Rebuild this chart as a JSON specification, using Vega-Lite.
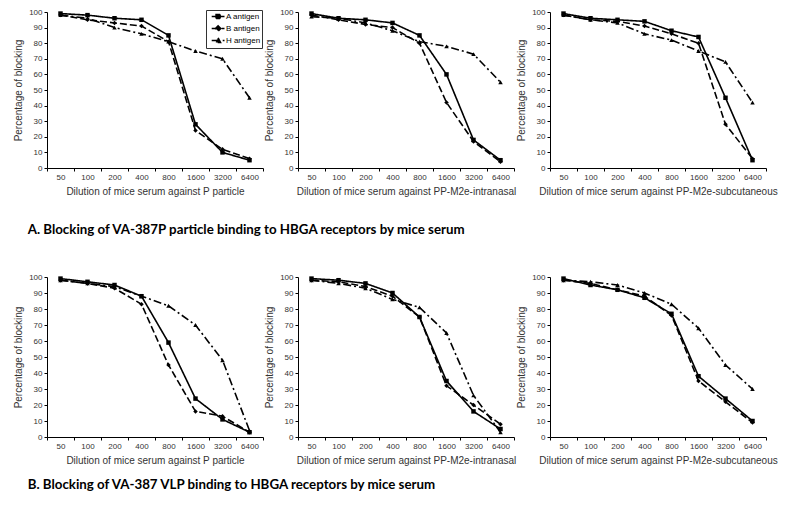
{
  "$schema": "https://vega.github.io/schema/vega-lite/v6.json",
  "padding": {"left": 13, "top": 8, "right": 5, "bottom": 5},
  "background": "white",
  "spacing": 36,
  "config": {
    "view": {"stroke": null},
    "font": "Liberation Sans",
    "axis": {"grid": false, "domainColor": "#000", "tickColor": "#000", "tickSize": 3, "labelFontSize": 8, "labelColor": "#333", "titleFontSize": 10, "titleFontWeight": "normal", "titleColor": "#333", "labelFont": "Liberation Sans", "titleFont": "Liberation Sans"},
    "axisX": {"labelAngle": 0, "tickBand": "extent", "titlePadding": 5},
    "axisY": {"titlePadding": 5, "labelPadding": 2}
  },
  "datasets": {
    "d": [
      {"p": 1, "a": "A antigen", "d": "50", "v": 99}, {"p": 1, "a": "A antigen", "d": "100", "v": 98}, {"p": 1, "a": "A antigen", "d": "200", "v": 96}, {"p": 1, "a": "A antigen", "d": "400", "v": 95}, {"p": 1, "a": "A antigen", "d": "800", "v": 85}, {"p": 1, "a": "A antigen", "d": "1600", "v": 28}, {"p": 1, "a": "A antigen", "d": "3200", "v": 10}, {"p": 1, "a": "A antigen", "d": "6400", "v": 5},
      {"p": 1, "a": "B antigen", "d": "50", "v": 98}, {"p": 1, "a": "B antigen", "d": "100", "v": 95}, {"p": 1, "a": "B antigen", "d": "200", "v": 93}, {"p": 1, "a": "B antigen", "d": "400", "v": 91}, {"p": 1, "a": "B antigen", "d": "800", "v": 81}, {"p": 1, "a": "B antigen", "d": "1600", "v": 24}, {"p": 1, "a": "B antigen", "d": "3200", "v": 12}, {"p": 1, "a": "B antigen", "d": "6400", "v": 6},
      {"p": 1, "a": "H antigen", "d": "50", "v": 98}, {"p": 1, "a": "H antigen", "d": "100", "v": 96}, {"p": 1, "a": "H antigen", "d": "200", "v": 90}, {"p": 1, "a": "H antigen", "d": "400", "v": 86}, {"p": 1, "a": "H antigen", "d": "800", "v": 81}, {"p": 1, "a": "H antigen", "d": "1600", "v": 75}, {"p": 1, "a": "H antigen", "d": "3200", "v": 70}, {"p": 1, "a": "H antigen", "d": "6400", "v": 45},
      {"p": 2, "a": "A antigen", "d": "50", "v": 99}, {"p": 2, "a": "A antigen", "d": "100", "v": 96}, {"p": 2, "a": "A antigen", "d": "200", "v": 95}, {"p": 2, "a": "A antigen", "d": "400", "v": 93}, {"p": 2, "a": "A antigen", "d": "800", "v": 85}, {"p": 2, "a": "A antigen", "d": "1600", "v": 60}, {"p": 2, "a": "A antigen", "d": "3200", "v": 18}, {"p": 2, "a": "A antigen", "d": "6400", "v": 5},
      {"p": 2, "a": "B antigen", "d": "50", "v": 98}, {"p": 2, "a": "B antigen", "d": "100", "v": 95}, {"p": 2, "a": "B antigen", "d": "200", "v": 92}, {"p": 2, "a": "B antigen", "d": "400", "v": 90}, {"p": 2, "a": "B antigen", "d": "800", "v": 80}, {"p": 2, "a": "B antigen", "d": "1600", "v": 42}, {"p": 2, "a": "B antigen", "d": "3200", "v": 17}, {"p": 2, "a": "B antigen", "d": "6400", "v": 4},
      {"p": 2, "a": "H antigen", "d": "50", "v": 97}, {"p": 2, "a": "H antigen", "d": "100", "v": 96}, {"p": 2, "a": "H antigen", "d": "200", "v": 93}, {"p": 2, "a": "H antigen", "d": "400", "v": 88}, {"p": 2, "a": "H antigen", "d": "800", "v": 81}, {"p": 2, "a": "H antigen", "d": "1600", "v": 78}, {"p": 2, "a": "H antigen", "d": "3200", "v": 73}, {"p": 2, "a": "H antigen", "d": "6400", "v": 55},
      {"p": 3, "a": "A antigen", "d": "50", "v": 99}, {"p": 3, "a": "A antigen", "d": "100", "v": 96}, {"p": 3, "a": "A antigen", "d": "200", "v": 95}, {"p": 3, "a": "A antigen", "d": "400", "v": 94}, {"p": 3, "a": "A antigen", "d": "800", "v": 88}, {"p": 3, "a": "A antigen", "d": "1600", "v": 84}, {"p": 3, "a": "A antigen", "d": "3200", "v": 45}, {"p": 3, "a": "A antigen", "d": "6400", "v": 5},
      {"p": 3, "a": "B antigen", "d": "50", "v": 98}, {"p": 3, "a": "B antigen", "d": "100", "v": 95}, {"p": 3, "a": "B antigen", "d": "200", "v": 94}, {"p": 3, "a": "B antigen", "d": "400", "v": 91}, {"p": 3, "a": "B antigen", "d": "800", "v": 86}, {"p": 3, "a": "B antigen", "d": "1600", "v": 80}, {"p": 3, "a": "B antigen", "d": "3200", "v": 28}, {"p": 3, "a": "B antigen", "d": "6400", "v": 6},
      {"p": 3, "a": "H antigen", "d": "50", "v": 98}, {"p": 3, "a": "H antigen", "d": "100", "v": 95}, {"p": 3, "a": "H antigen", "d": "200", "v": 93}, {"p": 3, "a": "H antigen", "d": "400", "v": 86}, {"p": 3, "a": "H antigen", "d": "800", "v": 82}, {"p": 3, "a": "H antigen", "d": "1600", "v": 75}, {"p": 3, "a": "H antigen", "d": "3200", "v": 68}, {"p": 3, "a": "H antigen", "d": "6400", "v": 42},
      {"p": 4, "a": "A antigen", "d": "50", "v": 99}, {"p": 4, "a": "A antigen", "d": "100", "v": 97}, {"p": 4, "a": "A antigen", "d": "200", "v": 95}, {"p": 4, "a": "A antigen", "d": "400", "v": 88}, {"p": 4, "a": "A antigen", "d": "800", "v": 59}, {"p": 4, "a": "A antigen", "d": "1600", "v": 24}, {"p": 4, "a": "A antigen", "d": "3200", "v": 11}, {"p": 4, "a": "A antigen", "d": "6400", "v": 3},
      {"p": 4, "a": "B antigen", "d": "50", "v": 98}, {"p": 4, "a": "B antigen", "d": "100", "v": 96}, {"p": 4, "a": "B antigen", "d": "200", "v": 93}, {"p": 4, "a": "B antigen", "d": "400", "v": 83}, {"p": 4, "a": "B antigen", "d": "800", "v": 45}, {"p": 4, "a": "B antigen", "d": "1600", "v": 16}, {"p": 4, "a": "B antigen", "d": "3200", "v": 13}, {"p": 4, "a": "B antigen", "d": "6400", "v": 3},
      {"p": 4, "a": "H antigen", "d": "50", "v": 98}, {"p": 4, "a": "H antigen", "d": "100", "v": 96}, {"p": 4, "a": "H antigen", "d": "200", "v": 94}, {"p": 4, "a": "H antigen", "d": "400", "v": 88}, {"p": 4, "a": "H antigen", "d": "800", "v": 82}, {"p": 4, "a": "H antigen", "d": "1600", "v": 70}, {"p": 4, "a": "H antigen", "d": "3200", "v": 48}, {"p": 4, "a": "H antigen", "d": "6400", "v": 4},
      {"p": 5, "a": "A antigen", "d": "50", "v": 99}, {"p": 5, "a": "A antigen", "d": "100", "v": 98}, {"p": 5, "a": "A antigen", "d": "200", "v": 96}, {"p": 5, "a": "A antigen", "d": "400", "v": 90}, {"p": 5, "a": "A antigen", "d": "800", "v": 75}, {"p": 5, "a": "A antigen", "d": "1600", "v": 35}, {"p": 5, "a": "A antigen", "d": "3200", "v": 16}, {"p": 5, "a": "A antigen", "d": "6400", "v": 5},
      {"p": 5, "a": "B antigen", "d": "50", "v": 98}, {"p": 5, "a": "B antigen", "d": "100", "v": 97}, {"p": 5, "a": "B antigen", "d": "200", "v": 94}, {"p": 5, "a": "B antigen", "d": "400", "v": 88}, {"p": 5, "a": "B antigen", "d": "800", "v": 75}, {"p": 5, "a": "B antigen", "d": "1600", "v": 32}, {"p": 5, "a": "B antigen", "d": "3200", "v": 20}, {"p": 5, "a": "B antigen", "d": "6400", "v": 8},
      {"p": 5, "a": "H antigen", "d": "50", "v": 98}, {"p": 5, "a": "H antigen", "d": "100", "v": 96}, {"p": 5, "a": "H antigen", "d": "200", "v": 93}, {"p": 5, "a": "H antigen", "d": "400", "v": 86}, {"p": 5, "a": "H antigen", "d": "800", "v": 81}, {"p": 5, "a": "H antigen", "d": "1600", "v": 65}, {"p": 5, "a": "H antigen", "d": "3200", "v": 26}, {"p": 5, "a": "H antigen", "d": "6400", "v": 3},
      {"p": 6, "a": "A antigen", "d": "50", "v": 99}, {"p": 6, "a": "A antigen", "d": "100", "v": 95}, {"p": 6, "a": "A antigen", "d": "200", "v": 92}, {"p": 6, "a": "A antigen", "d": "400", "v": 87}, {"p": 6, "a": "A antigen", "d": "800", "v": 77}, {"p": 6, "a": "A antigen", "d": "1600", "v": 38}, {"p": 6, "a": "A antigen", "d": "3200", "v": 24}, {"p": 6, "a": "A antigen", "d": "6400", "v": 10},
      {"p": 6, "a": "B antigen", "d": "50", "v": 98}, {"p": 6, "a": "B antigen", "d": "100", "v": 96}, {"p": 6, "a": "B antigen", "d": "200", "v": 92}, {"p": 6, "a": "B antigen", "d": "400", "v": 88}, {"p": 6, "a": "B antigen", "d": "800", "v": 76}, {"p": 6, "a": "B antigen", "d": "1600", "v": 35}, {"p": 6, "a": "B antigen", "d": "3200", "v": 22}, {"p": 6, "a": "B antigen", "d": "6400", "v": 9},
      {"p": 6, "a": "H antigen", "d": "50", "v": 98}, {"p": 6, "a": "H antigen", "d": "100", "v": 97}, {"p": 6, "a": "H antigen", "d": "200", "v": 95}, {"p": 6, "a": "H antigen", "d": "400", "v": 90}, {"p": 6, "a": "H antigen", "d": "800", "v": 83}, {"p": 6, "a": "H antigen", "d": "1600", "v": 68}, {"p": 6, "a": "H antigen", "d": "3200", "v": 45}, {"p": 6, "a": "H antigen", "d": "6400", "v": 30}
    ]
  },
  "vconcat": [
    {
      "title": {"text": "A. Blocking of VA-387P particle binding to HBGA receptors by mice serum", "orient": "bottom", "anchor": "start", "offset": 27, "dx": 14, "font": "Lato", "fontSize": 13.3, "fontWeight": "bold", "color": "#000"},
      "spacing": 0,
      "hconcat": [
        {
          "width": 216, "height": 156,
          "data": {"name": "d"},
          "transform": [{"filter": "datum.p == 1"}],
          "encoding": {
            "x": {"field": "d", "type": "ordinal", "sort": ["50", "100", "200", "400", "800", "1600", "3200", "6400"], "scale": {"type": "band", "paddingInner": 0, "paddingOuter": 0}, "bandPosition": 0.5, "axis": {"title": "Dilution of mice serum against P particle"}},
            "y": {"field": "v", "type": "quantitative", "scale": {"domain": [0, 100]}, "axis": {"title": "Percentage of blocking", "values": [0, 10, 20, 30, 40, 50, 60, 70, 80, 90, 100]}}
          },
          "layer": [
            {"mark": {"type": "line", "color": "#000", "strokeWidth": 1.6}, "encoding": {"strokeDash": {"field": "a", "type": "nominal", "scale": {"domain": ["A antigen", "B antigen", "H antigen"], "range": [[1, 0], [7, 3], [8, 3, 2, 3]]}, "legend": {"title": null, "orient": "none", "legendX": 159, "legendY": -2, "strokeColor": "#333", "padding": 1.5, "labelFontSize": 8, "labelColor": "#000", "labelOffset": 8.4, "rowPadding": 0, "symbolSize": 64, "symbolStrokeColor": "#000", "symbolStrokeWidth": 1.6, "symbolFillColor": "#000", "encode": {"symbols": {"update": {"fill": {"value": "#000"}, "stroke": {"value": "#000"}, "strokeWidth": {"value": 1.6}, "strokeDash": {"value": [1, 0]}, "shape": {"signal": "datum.value === 'A antigen' ? 'M-0.2,0L3,0M0.9,-0.5L1.9,-0.5L1.9,0.5L0.9,0.5Z' : datum.value === 'B antigen' ? 'M-0.2,0L3,0M1.4,-0.65L2.05,0L1.4,0.65L0.75,0Z' : 'M-0.2,0L3,0M1.4,-0.65L2,0.5L0.8,0.5Z'"}}}}}}}},
            {"mark": {"type": "point", "filled": true, "color": "#000", "opacity": 1, "size": 20}, "encoding": {"shape": {"condition": [{"test": "datum.a === 'A antigen'", "value": "square"}, {"test": "datum.a === 'B antigen'", "value": "diamond"}], "value": "triangle-up"}}}
          ]
        },
        {
          "width": 216, "height": 156,
          "data": {"name": "d"},
          "transform": [{"filter": "datum.p == 2"}],
          "encoding": {
            "x": {"field": "d", "type": "ordinal", "sort": ["50", "100", "200", "400", "800", "1600", "3200", "6400"], "scale": {"type": "band", "paddingInner": 0, "paddingOuter": 0}, "bandPosition": 0.5, "axis": {"title": "Dilution of mice serum against PP-M2e-intranasal"}},
            "y": {"field": "v", "type": "quantitative", "scale": {"domain": [0, 100]}, "axis": {"title": "Percentage of blocking", "values": [0, 10, 20, 30, 40, 50, 60, 70, 80, 90, 100]}}
          },
          "layer": [
            {"mark": {"type": "line", "color": "#000", "strokeWidth": 1.6}, "encoding": {"strokeDash": {"field": "a", "type": "nominal", "scale": {"domain": ["A antigen", "B antigen", "H antigen"], "range": [[1, 0], [7, 3], [8, 3, 2, 3]]}, "legend": null}}},
            {"mark": {"type": "point", "filled": true, "color": "#000", "opacity": 1, "size": 20}, "encoding": {"shape": {"condition": [{"test": "datum.a === 'A antigen'", "value": "square"}, {"test": "datum.a === 'B antigen'", "value": "diamond"}], "value": "triangle-up"}}}
          ]
        },
        {
          "width": 216, "height": 156,
          "data": {"name": "d"},
          "transform": [{"filter": "datum.p == 3"}],
          "encoding": {
            "x": {"field": "d", "type": "ordinal", "sort": ["50", "100", "200", "400", "800", "1600", "3200", "6400"], "scale": {"type": "band", "paddingInner": 0, "paddingOuter": 0}, "bandPosition": 0.5, "axis": {"title": "Dilution of mice serum against PP-M2e-subcutaneous"}},
            "y": {"field": "v", "type": "quantitative", "scale": {"domain": [0, 100]}, "axis": {"title": "Percentage of blocking", "values": [0, 10, 20, 30, 40, 50, 60, 70, 80, 90, 100]}}
          },
          "layer": [
            {"mark": {"type": "line", "color": "#000", "strokeWidth": 1.6}, "encoding": {"strokeDash": {"field": "a", "type": "nominal", "scale": {"domain": ["A antigen", "B antigen", "H antigen"], "range": [[1, 0], [7, 3], [8, 3, 2, 3]]}, "legend": null}}},
            {"mark": {"type": "point", "filled": true, "color": "#000", "opacity": 1, "size": 20}, "encoding": {"shape": {"condition": [{"test": "datum.a === 'A antigen'", "value": "square"}, {"test": "datum.a === 'B antigen'", "value": "diamond"}], "value": "triangle-up"}}}
          ]
        }
      ],
      "resolve": {"scale": {"x": "independent", "y": "independent", "strokeDash": "independent"}, "legend": {"strokeDash": "independent"}}
    },
    {
      "title": {"text": "B. Blocking of VA-387 VLP binding to HBGA receptors by mice serum", "orient": "bottom", "anchor": "start", "offset": 13, "dx": 14, "font": "Lato", "fontSize": 13.3, "fontWeight": "bold", "color": "#000"},
      "spacing": 0,
      "hconcat": [
        {
          "width": 216, "height": 160,
          "data": {"name": "d"},
          "transform": [{"filter": "datum.p == 4"}],
          "encoding": {
            "x": {"field": "d", "type": "ordinal", "sort": ["50", "100", "200", "400", "800", "1600", "3200", "6400"], "scale": {"type": "band", "paddingInner": 0, "paddingOuter": 0}, "bandPosition": 0.5, "axis": {"title": "Dilution of mice serum against P particle"}},
            "y": {"field": "v", "type": "quantitative", "scale": {"domain": [0, 100]}, "axis": {"title": "Percentage of blocking", "values": [0, 10, 20, 30, 40, 50, 60, 70, 80, 90, 100]}}
          },
          "layer": [
            {"mark": {"type": "line", "color": "#000", "strokeWidth": 1.6}, "encoding": {"strokeDash": {"field": "a", "type": "nominal", "scale": {"domain": ["A antigen", "B antigen", "H antigen"], "range": [[1, 0], [7, 3], [8, 3, 2, 3]]}, "legend": null}}},
            {"mark": {"type": "point", "filled": true, "color": "#000", "opacity": 1, "size": 20}, "encoding": {"shape": {"condition": [{"test": "datum.a === 'A antigen'", "value": "square"}, {"test": "datum.a === 'B antigen'", "value": "diamond"}], "value": "triangle-up"}}}
          ]
        },
        {
          "width": 216, "height": 160,
          "data": {"name": "d"},
          "transform": [{"filter": "datum.p == 5"}],
          "encoding": {
            "x": {"field": "d", "type": "ordinal", "sort": ["50", "100", "200", "400", "800", "1600", "3200", "6400"], "scale": {"type": "band", "paddingInner": 0, "paddingOuter": 0}, "bandPosition": 0.5, "axis": {"title": "Dilution of mice serum against PP-M2e-intranasal"}},
            "y": {"field": "v", "type": "quantitative", "scale": {"domain": [0, 100]}, "axis": {"title": "Percentage of blocking", "values": [0, 10, 20, 30, 40, 50, 60, 70, 80, 90, 100]}}
          },
          "layer": [
            {"mark": {"type": "line", "color": "#000", "strokeWidth": 1.6}, "encoding": {"strokeDash": {"field": "a", "type": "nominal", "scale": {"domain": ["A antigen", "B antigen", "H antigen"], "range": [[1, 0], [7, 3], [8, 3, 2, 3]]}, "legend": null}}},
            {"mark": {"type": "point", "filled": true, "color": "#000", "opacity": 1, "size": 20}, "encoding": {"shape": {"condition": [{"test": "datum.a === 'A antigen'", "value": "square"}, {"test": "datum.a === 'B antigen'", "value": "diamond"}], "value": "triangle-up"}}}
          ]
        },
        {
          "width": 216, "height": 160,
          "data": {"name": "d"},
          "transform": [{"filter": "datum.p == 6"}],
          "encoding": {
            "x": {"field": "d", "type": "ordinal", "sort": ["50", "100", "200", "400", "800", "1600", "3200", "6400"], "scale": {"type": "band", "paddingInner": 0, "paddingOuter": 0}, "bandPosition": 0.5, "axis": {"title": "Dilution of mice serum against PP-M2e-subcutaneous"}},
            "y": {"field": "v", "type": "quantitative", "scale": {"domain": [0, 100]}, "axis": {"title": "Percentage of blocking", "values": [0, 10, 20, 30, 40, 50, 60, 70, 80, 90, 100]}}
          },
          "layer": [
            {"mark": {"type": "line", "color": "#000", "strokeWidth": 1.6}, "encoding": {"strokeDash": {"field": "a", "type": "nominal", "scale": {"domain": ["A antigen", "B antigen", "H antigen"], "range": [[1, 0], [7, 3], [8, 3, 2, 3]]}, "legend": null}}},
            {"mark": {"type": "point", "filled": true, "color": "#000", "opacity": 1, "size": 20}, "encoding": {"shape": {"condition": [{"test": "datum.a === 'A antigen'", "value": "square"}, {"test": "datum.a === 'B antigen'", "value": "diamond"}], "value": "triangle-up"}}}
          ]
        }
      ],
      "resolve": {"scale": {"x": "independent", "y": "independent", "strokeDash": "independent"}, "legend": {"strokeDash": "independent"}}
    }
  ],
  "resolve": {"scale": {"x": "independent", "y": "independent", "strokeDash": "independent"}, "legend": {"strokeDash": "independent"}}
}
